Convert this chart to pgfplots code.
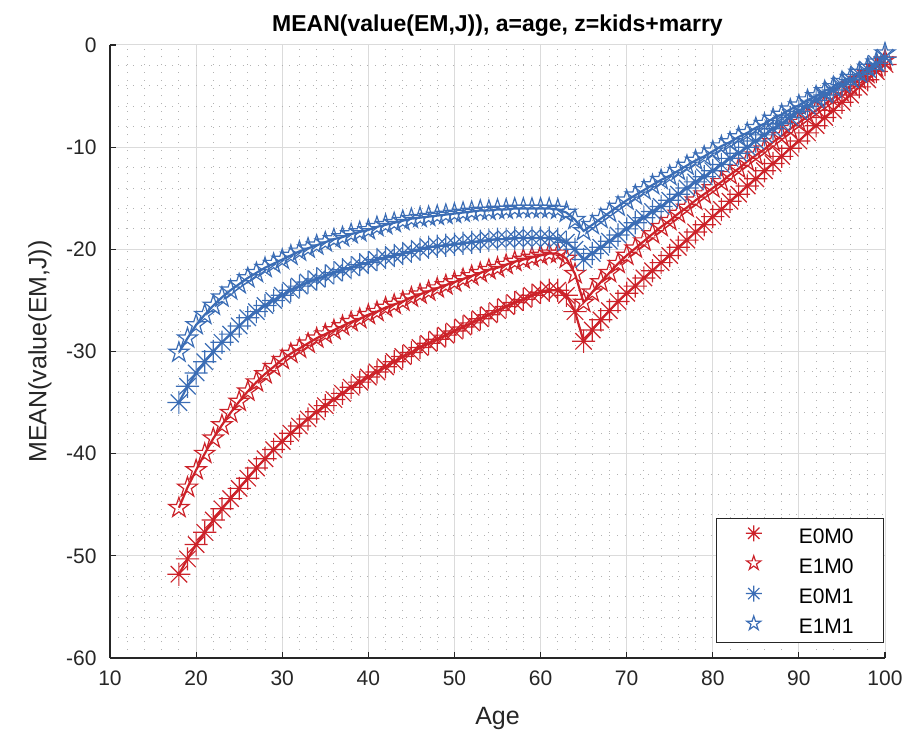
\documentclass[border=0pt]{standalone}
\usepackage{fontspec}
\setmainfont{Liberation Sans}
\usepackage{pgfplots}
\pgfplotsset{compat=1.18}
\usepackage{pgfplotstable}
\usetikzlibrary{calc}

\definecolor{mred}{HTML}{CC2229}
\definecolor{mblue}{HTML}{3B6DB5}
\definecolor{axgray}{HTML}{262626}

% 8-armed asterisk, like matlab '*'
\pgfdeclareplotmark{mast}{%
  \pgfpathmoveto{\pgfpoint{-\pgfplotmarksize}{0pt}}%
  \pgfpathlineto{\pgfpoint{\pgfplotmarksize}{0pt}}%
  \pgfpathmoveto{\pgfpoint{0pt}{-\pgfplotmarksize}}%
  \pgfpathlineto{\pgfpoint{0pt}{\pgfplotmarksize}}%
  \pgfpathmoveto{\pgfpoint{-0.707\pgfplotmarksize}{-0.707\pgfplotmarksize}}%
  \pgfpathlineto{\pgfpoint{0.707\pgfplotmarksize}{0.707\pgfplotmarksize}}%
  \pgfpathmoveto{\pgfpoint{-0.707\pgfplotmarksize}{0.707\pgfplotmarksize}}%
  \pgfpathlineto{\pgfpoint{0.707\pgfplotmarksize}{-0.707\pgfplotmarksize}}%
  \pgfusepathqstroke}
% open pentagram
\pgfdeclareplotmark{pgram}{%
  \pgfpathmoveto{\pgfpointpolar{90}{1.1\pgfplotmarksize}}%
  \pgfpathlineto{\pgfpointpolar{126}{0.42\pgfplotmarksize}}%
  \pgfpathlineto{\pgfpointpolar{162}{1.1\pgfplotmarksize}}%
  \pgfpathlineto{\pgfpointpolar{198}{0.42\pgfplotmarksize}}%
  \pgfpathlineto{\pgfpointpolar{234}{1.1\pgfplotmarksize}}%
  \pgfpathlineto{\pgfpointpolar{270}{0.42\pgfplotmarksize}}%
  \pgfpathlineto{\pgfpointpolar{306}{1.1\pgfplotmarksize}}%
  \pgfpathlineto{\pgfpointpolar{342}{0.42\pgfplotmarksize}}%
  \pgfpathlineto{\pgfpointpolar{18}{1.1\pgfplotmarksize}}%
  \pgfpathlineto{\pgfpointpolar{54}{0.42\pgfplotmarksize}}%
  \pgfpathclose
  \pgfusepathqstroke}

\pgfplotstableread{
age e0m0 e1m0 e0m1 e1m1
18 -51.8 -45.3 -35.0 -30.1
19 -50.3 -43.3 -33.4 -28.7
20 -48.9 -41.6 -32.1 -27.4
21 -47.7 -40.0 -31.0 -26.4
22 -46.5 -38.5 -30.0 -25.5
23 -45.4 -37.2 -29.1 -24.7
24 -44.4 -36.0 -28.3 -24.0
25 -43.4 -34.9 -27.5 -23.4
26 -42.4 -33.9 -26.7 -22.8
27 -41.4 -33.0 -26.1 -22.3
28 -40.5 -32.2 -25.5 -21.8
29 -39.6 -31.5 -25.0 -21.4
30 -38.8 -30.8 -24.5 -21.0
31 -38.0 -30.2 -24.0 -20.6
32 -37.3 -29.7 -23.6 -20.2
33 -36.6 -29.2 -23.2 -19.9
34 -35.9 -28.7 -22.9 -19.6
35 -35.3 -28.3 -22.6 -19.3
36 -34.7 -27.9 -22.3 -19.0
37 -34.1 -27.5 -22.0 -18.8
38 -33.5 -27.1 -21.8 -18.5
39 -33.0 -26.8 -21.5 -18.3
40 -32.5 -26.4 -21.3 -18.1
41 -32.0 -26.1 -21.0 -17.8
42 -31.5 -25.7 -20.8 -17.6
43 -31.0 -25.4 -20.6 -17.4
44 -30.5 -25.1 -20.4 -17.2
45 -30.1 -24.7 -20.2 -17.0
46 -29.6 -24.4 -20.0 -16.9
47 -29.2 -24.1 -19.8 -16.8
48 -28.8 -23.8 -19.7 -16.7
49 -28.4 -23.5 -19.6 -16.6
50 -28.0 -23.2 -19.5 -16.5
51 -27.6 -22.9 -19.4 -16.4
52 -27.2 -22.6 -19.3 -16.3
53 -26.8 -22.3 -19.2 -16.2
54 -26.4 -22.0 -19.1 -16.2
55 -26.0 -21.8 -19.0 -16.1
56 -25.6 -21.5 -19.0 -16.1
57 -25.2 -21.2 -18.9 -16.0
58 -24.9 -21.0 -18.9 -16.0
59 -24.5 -20.8 -18.9 -16.0
60 -24.2 -20.6 -18.9 -16.0
61 -24.0 -20.4 -18.9 -16.0
62 -24.0 -20.4 -19.0 -16.1
63 -24.5 -20.9 -19.3 -16.4
64 -26.1 -22.4 -20.0 -17.1
65 -29.0 -25.2 -21.0 -18.2
66 -27.9 -24.2 -20.4 -17.6
67 -26.9 -23.2 -19.8 -17.0
68 -26.0 -22.3 -19.2 -16.4
69 -25.1 -21.4 -18.6 -15.8
70 -24.3 -20.6 -18.0 -15.2
71 -23.6 -19.9 -17.4 -14.7
72 -22.8 -19.2 -16.9 -14.2
73 -22.1 -18.5 -16.3 -13.7
74 -21.3 -17.8 -15.8 -13.2
75 -20.6 -17.2 -15.2 -12.8
76 -19.8 -16.5 -14.6 -12.3
77 -19.1 -15.9 -14.0 -11.8
78 -18.3 -15.2 -13.4 -11.3
79 -17.6 -14.6 -12.9 -10.9
80 -16.8 -14.0 -12.3 -10.4
81 -16.1 -13.4 -11.7 -9.9
82 -15.3 -12.7 -11.1 -9.5
83 -14.6 -12.1 -10.6 -9.0
84 -13.8 -11.4 -10.0 -8.6
85 -13.1 -10.8 -9.4 -8.1
86 -12.3 -10.2 -8.8 -7.7
87 -11.6 -9.5 -8.2 -7.2
88 -10.9 -8.9 -7.7 -6.8
89 -10.1 -8.2 -7.1 -6.3
90 -9.4 -7.6 -6.5 -5.9
91 -8.6 -7.0 -6.0 -5.4
92 -7.9 -6.4 -5.4 -5.0
93 -7.1 -5.8 -4.9 -4.5
94 -6.4 -5.2 -4.4 -4.1
95 -5.6 -4.6 -3.9 -3.6
96 -4.9 -4.0 -3.4 -3.2
97 -4.1 -3.4 -2.9 -2.7
98 -3.4 -2.8 -2.4 -2.2
99 -2.6 -2.2 -1.8 -1.7
100 -1.9 -1.5 -1.2 -0.8
}\valtab

\begin{document}
\begin{tikzpicture}
\begin{axis}[
  scale only axis, width=387.5pt, height=306.5pt,
  xmin=10, xmax=100, ymin=-60, ymax=0,
  xtick={10,20,...,100}, ytick={-60,-50,...,0},
  minor x tick num=4, minor y tick num=4,
  axis lines*=left, axis line style={axgray, line width=0.6pt, -},
  tick align=inside, major tick length=3pt, minor tick length=0pt,
  tick style={axgray, line width=0.6pt},
  grid=both,
  major grid style={black!14, line width=0.5pt},
  minor grid style={black!30, line width=0.5pt, dash pattern=on 0.5pt off 3.4pt},
  /pgf/number format/assume math mode=true,
  tick label style={font=\fontsize{10.5}{12}\selectfont, text=axgray},
  xticklabel style={anchor=north, inner sep=0pt, yshift=-6.3pt},
  yticklabel style={anchor=east, inner sep=0pt, xshift=-6.5pt},
  xlabel={Age},
  xlabel style={font=\fontsize{12.5}{14}\selectfont, text=axgray,
    at={(0.5,0)}, anchor=base, yshift=-33.5pt},
  ylabel={MEAN(value(EM,J))},
  ylabel style={font=\fontsize{12.5}{14}\selectfont, text=axgray,
    at={($(rel axis cs:0,0.5)+(-35pt,0pt)$)}, anchor=center},
  title={MEAN(value(EM,J)), a=age, z=kids+marry},
  title style={font=\bfseries\fontsize{11.5}{13}\selectfont,
    at={(0.5,1)}, anchor=base, yshift=0.5pt},
  clip=false,
  legend style={at={(0.999,0.0245)}, anchor=south east, draw=axgray,
    line width=0.6pt, fill=white, inner xsep=3pt, inner ysep=3.4pt,
    row sep=5.15pt, font=\fontsize{10.5}{12}\selectfont,
    nodes={inner sep=1pt, text height=7.5pt, text depth=0pt}},
  legend cell align=left,
  legend image code/.code={\path[draw=none] (0pt,0pt) -- (37pt,0pt);
    \draw[#1] plot coordinates {(15.5pt,1.3pt)};},
]
\addlegendimage{only marks, mark=mast, mark size=4pt, mred, line width=0.6pt}
\addlegendentry{E0M0\hspace*{11pt}}
\addlegendimage{only marks, mark=pgram, mark size=3.4pt, mred, line width=0.6pt}
\addlegendentry{E1M0\hspace*{11pt}}
\addlegendimage{only marks, mark=mast, mark size=4pt, mblue, line width=0.6pt}
\addlegendentry{E0M1\hspace*{11pt}}
\addlegendimage{only marks, mark=pgram, mark size=3.4pt, mblue, line width=0.6pt}
\addlegendentry{E1M1\hspace*{11pt}}

\addplot[forget plot, mred, line width=1.1pt, mark=mast, mark size=5.8pt,
  mark options={line width=0.6pt}] table[x=age, y=e0m0] {\valtab};
\addplot[forget plot, mred, line width=1.1pt, mark=pgram, mark size=4.8pt,
  mark options={line width=0.6pt}] table[x=age, y=e1m0] {\valtab};
\addplot[forget plot, mblue, line width=1.1pt, mark=mast, mark size=5.8pt,
  mark options={line width=0.6pt}] table[x=age, y=e0m1] {\valtab};
\addplot[forget plot, mblue, line width=1.1pt, mark=pgram, mark size=4.8pt,
  mark options={line width=0.6pt}] table[x=age, y=e1m1] {\valtab};
\end{axis}
\path ($(current axis.south west)+(-55pt,-39pt)$) rectangle
  ($(current axis.north east)+(10pt,22.5pt)$);
\end{tikzpicture}
\end{document}
